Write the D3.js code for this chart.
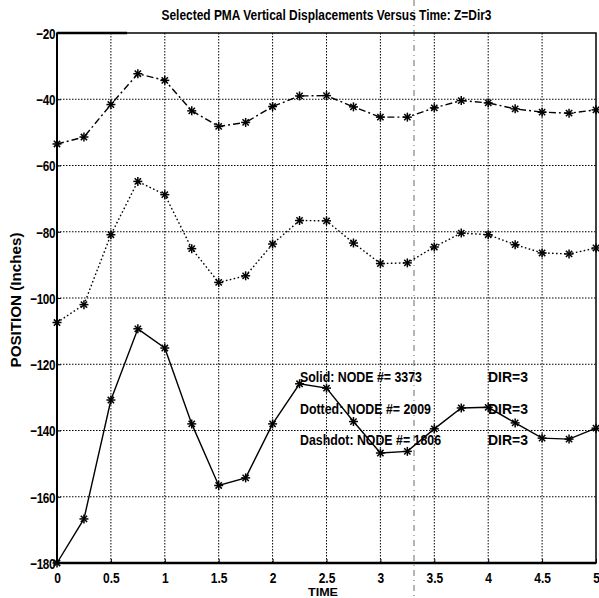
<!DOCTYPE html>
<html><head><meta charset="utf-8">
<script src="https://cdn.jsdelivr.net/npm/d3@7"></script>
<style>body{margin:0;background:#fff}svg{display:block}text{font-family:"Liberation Sans",Arial,sans-serif;font-weight:bold;fill:#000}</style>
</head><body><div id="chart"></div>
<script>
const times = [0,0.25,0.5,0.75,1,1.25,1.5,1.75,2,2.25,2.5,2.75,3,3.25,3.5,3.75,4,4.25,4.5,4.75,5];
const solidNode = [-180,-166.7,-130.8,-109.3,-115.1,-138.0,-156.6,-154.3,-138.0,-125.9,-127.2,-137.3,-146.8,-146.3,-139.5,-133.2,-133.0,-137.7,-142.3,-142.6,-139.3];
const dottedNode = [-107.4,-102.0,-80.9,-64.8,-68.8,-85.1,-95.3,-93.3,-83.7,-76.6,-76.7,-83.4,-89.6,-89.4,-84.6,-80.4,-80.9,-83.9,-86.4,-86.7,-84.9];
const dashdotNode = [-53.5,-51.4,-41.6,-32.3,-34.3,-43.5,-48.2,-47.0,-42.2,-39.0,-38.9,-42.3,-45.4,-45.4,-42.6,-40.4,-41.1,-42.9,-43.9,-44.2,-43.2];
const xTicks = [0,0.5,1,1.5,2,2.5,3,3.5,4,4.5,5];
const yTicks = [-20,-40,-60,-80,-100,-120,-140,-160,-180];
const legendLabels = ["Solid: NODE #= 3373","Dotted: NODE #= 2009","Dashdot: NODE #= 1806"];
const legendDirs = ["DIR=3","DIR=3","DIR=3"];
const title = "Selected PMA Vertical Displacements Versus Time: Z=Dir3";
const xLabel = "TIME";
const yLabel = "POSITION (Inches)";

const W = 599, H = 598;
const m = {left:57, right:3, top:33, bottom:35};
const svg = d3.select("#chart").append("svg").attr("width",W).attr("height",H);
const x = d3.scaleLinear().domain([0,5]).range([m.left, W-m.right]);
const y = d3.scaleLinear().domain([-180,-20]).range([H-m.bottom, m.top]);

// grid
const g = svg.append("g");
g.selectAll(".vg").data(xTicks.slice(1,-1)).join("line")
  .attr("x1",d=>x(d)).attr("x2",d=>x(d)).attr("y1",y(-20)).attr("y2",y(-180))
  .attr("stroke","#000").attr("stroke-width",1).attr("stroke-dasharray","1.5,1.5");
g.selectAll(".hg").data(yTicks.slice(1,-1)).join("line")
  .attr("x1",x(0)).attr("x2",x(5)).attr("y1",d=>y(d)).attr("y2",d=>y(d))
  .attr("stroke","#000").attr("stroke-width",1).attr("stroke-dasharray","1.5,1.5");

// scan fold artifact
svg.append("line").attr("x1",414).attr("x2",414).attr("y1",0).attr("y2",H)
  .attr("stroke","#444").attr("stroke-width",0.8).attr("stroke-dasharray","6,4,1,4");

// axes box
svg.append("rect").attr("x",x(0)).attr("y",y(-20)).attr("width",x(5)-x(0)).attr("height",y(-180)-y(-20))
  .attr("fill","none").attr("stroke","#000").attr("stroke-width",1.5);
svg.append("line").attr("x1",x(0)).attr("x2",x(0)).attr("y1",y(-20)).attr("y2",y(-180)).attr("stroke","#000").attr("stroke-width",2);
svg.append("line").attr("x1",x(0)).attr("x2",x(5)).attr("y1",y(-180)).attr("y2",y(-180)).attr("stroke","#000").attr("stroke-width",2.4);
svg.append("line").attr("x1",x(0)).attr("x2",x(0.65)).attr("y1",y(-20)).attr("y2",y(-20)).attr("stroke","#000").attr("stroke-width",2.4);

// axes ticks & labels
const xa = d3.axisBottom(x).tickValues(xTicks).tickSize(4).tickFormat(d3.format("~g"));
const xg = svg.append("g").attr("transform",`translate(0,${y(-180)})`).call(xa);
xg.select(".domain").remove();
xg.selectAll("line").attr("y2",-4).attr("stroke","#000");
xg.selectAll("text").attr("y",0).attr("dy",null)
  .attr("transform","translate(0,20) scale(0.8,1)")
  .style("font-size","15px");
const ya = d3.axisLeft(y).tickValues(yTicks).tickSize(4).tickFormat(d=>d3.format("~g")(d).replace("-","\u2013"));
const yg = svg.append("g").attr("transform",`translate(${x(0)},0)`).call(ya);
yg.select(".domain").remove();
yg.selectAll("line").attr("x2",4).attr("stroke","#000");
yg.selectAll("text").attr("x",0).attr("dy","0.35em")
  .attr("transform","translate(-2,0) scale(0.78,1)")
  .style("font-size","15px").attr("letter-spacing","-0.5");

// series
const line = d3.line().x((d,i)=>x(times[i])).y(d=>y(d));
const series = [
  {vals:solidNode, dash:null},
  {vals:dottedNode, dash:"1.6,2.4"},
  {vals:dashdotNode, dash:"7,3,2,3"}
];
series.forEach(s=>{
  svg.append("path").datum(s.vals).attr("d",line).attr("fill","none")
    .attr("stroke","#000").attr("stroke-width",1.4).attr("stroke-dasharray",s.dash);
  const mk = svg.append("g").selectAll("g").data(s.vals).join("g")
    .attr("transform",(d,i)=>`translate(${x(times[i])},${y(d)})`);
  const r = 4.5;
  [[-r,0,r,0],[0,-r,0,r],[-r*0.7,-r*0.7,r*0.7,r*0.7],[-r*0.7,r*0.7,r*0.7,-r*0.7]].forEach(c=>{
    mk.append("line").attr("x1",c[0]).attr("y1",c[1]).attr("x2",c[2]).attr("y2",c[3])
      .attr("stroke","#000").attr("stroke-width",1.5);
  });
});

// legend text
const ly = [377,409,440];
const lw = [122,131,141];
svg.selectAll(".lt").data(legendLabels).join("text")
  .attr("x",300).attr("y",(d,i)=>ly[i]).attr("dy","0.35em")
  .attr("textLength",(d,i)=>lw[i]).attr("lengthAdjust","spacingAndGlyphs")
  .style("font-size","14px").text(d=>d);
svg.selectAll(".ld").data(legendDirs).join("text")
  .attr("x",488).attr("y",(d,i)=>ly[i]).attr("dy","0.35em")
  .attr("textLength",40).attr("lengthAdjust","spacingAndGlyphs")
  .style("font-size","14px").text(d=>d);

// title & axis labels
svg.append("text").attr("x",(x(0)+x(5))/2).attr("y",20).attr("text-anchor","middle")
  .attr("textLength",330).attr("lengthAdjust","spacingAndGlyphs")
  .style("font-size","14px").text(title);
svg.append("text").attr("x",323).attr("y",596).attr("text-anchor","middle")
  .attr("textLength",30).attr("lengthAdjust","spacingAndGlyphs").style("font-size","11px").text(xLabel);
svg.append("text").attr("transform","translate(21,300) rotate(-90)").attr("text-anchor","middle")
  .attr("textLength",135).attr("lengthAdjust","spacingAndGlyphs").style("font-size","14px").text(yLabel);
</script></body></html>
